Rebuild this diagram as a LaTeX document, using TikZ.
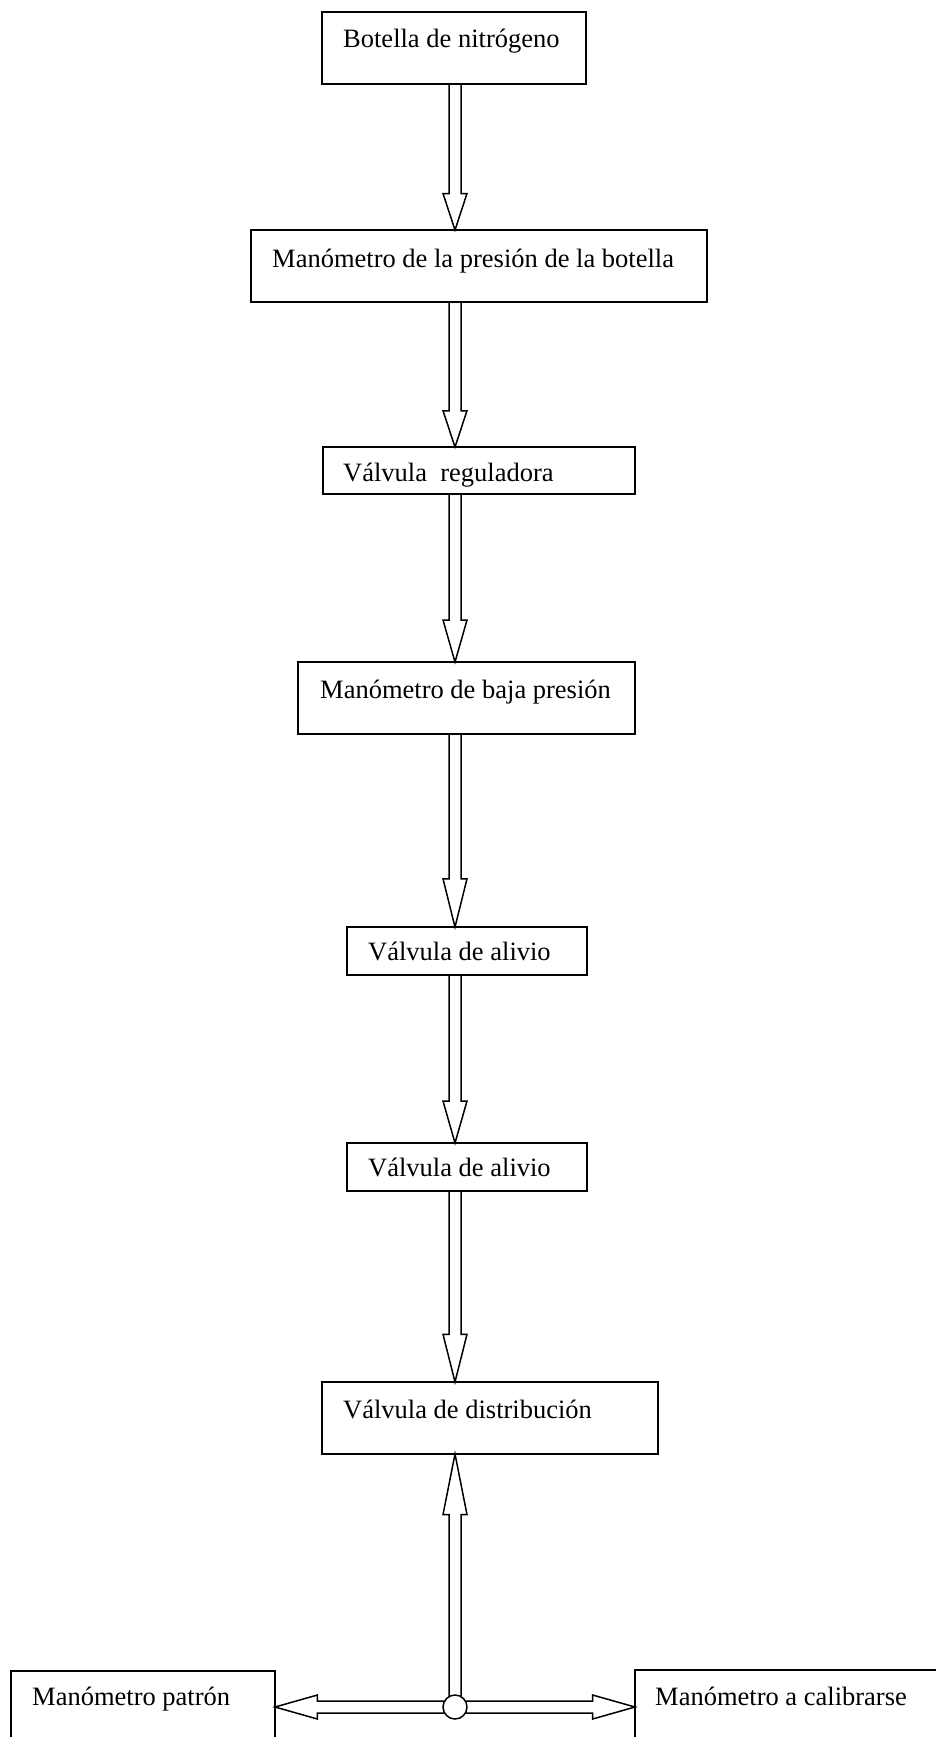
\documentclass[tikz,border=0pt]{standalone}
\usepackage{fontspec}
\setmainfont{Liberation Serif}
\usetikzlibrary{calc}
\pgfdeclarelayer{bg}
\pgfsetlayers{bg,main}
\newcommand\vblock[2]{%
  \draw[blk] let \p1=(#1), \p2=(#2), \n1={0.25*(\y2-\y1)} in
    ({\x1-6pt},\y1) -- ({\x1-6pt},{\y2-(\n1)*1pt}) -- ({\x1-12pt},{\y2-(\n1)*1pt})
    -- (\x2,\y2) -- ({\x1+12pt},{\y2-(\n1)*1pt}) -- ({\x1+6pt},{\y2-(\n1)*1pt})
    -- ({\x1+6pt},\y1) -- cycle;}
\begin{document}
\begin{tikzpicture}[x=1pt,y=-1pt,
  box/.style={draw,line width=1.5pt,anchor=north west,inner sep=0pt,outer sep=0pt},
  lbl/.style={anchor=base west,inner sep=0pt,font=\fontsize{26.5}{30}\selectfont},
  blk/.style={draw,line width=1.5pt,fill=white,line join=miter},
  joint/.style={draw,circle,minimum size=24pt,inner sep=0pt,outer sep=0pt,fill=white,line width=1.5pt}]
\useasboundingbox (0,0) rectangle (936,1737);
\clip (0,0) rectangle (936,1737);
\coordinate (ax) at (455,0);
% boxes
\node[box,minimum width=264pt,minimum height=72pt] (b1) at (322,12) {};
\node[box,minimum width=456pt,minimum height=72pt] (b2) at (251,230) {};
\node[box,minimum width=312pt,minimum height=47pt] (b3) at (323,447) {};
\node[box,minimum width=337pt,minimum height=72pt] (b4) at (298,662) {};
\node[box,minimum width=240pt,minimum height=48pt] (b5) at (347,927) {};
\node[box,minimum width=240pt,minimum height=48pt] (b6) at (347,1143) {};
\node[box,minimum width=336pt,minimum height=72pt] (b7) at (322,1382) {};
\node[box,minimum width=264pt,minimum height=110pt] (pl) at (11,1671) {};
\node[box,minimum width=365pt,minimum height=110pt] (pc) at (635,1670) {};
% labels
\node[lbl] (t1) at ([shift={(21,36)}]b1.north west) {Botella de nitrógeno};
\node[lbl] (t2) at ([shift={(21,37)}]b2.north west) {Manómetro de la presión de la botella};
\node[lbl] (t3) at ([shift={(20,34)}]b3.north west) {Válvula~~reguladora};
\node[lbl] (t4) at ([shift={(22,36)}]b4.north west) {Manómetro de baja presión};
\node[lbl] (t5) at ([shift={(21,33)}]b5.north west) {Válvula de alivio};
\node[lbl] (t6) at ([shift={(21,33)}]b6.north west) {Válvula de alivio};
\node[lbl] (t7) at ([shift={(21,36)}]b7.north west) {Válvula de distribución};
\node[lbl] (t8) at ([shift={(21,34)}]pl.north west) {Manómetro patrón};
\node[lbl] (t9) at ([shift={(20,35)}]pc.north west) {Manómetro a calibrarse};
% junction
\node[joint] (c) at (455,1707) {};
\begin{pgfonlayer}{bg}
\vblock{b1.south -| ax}{b2.north -| ax}
\vblock{b2.south -| ax}{b3.north -| ax}
\vblock{b3.south -| ax}{b4.north -| ax}
\vblock{b4.south -| ax}{b5.north -| ax}
\vblock{b5.south -| ax}{b6.north -| ax}
\vblock{b6.south -| ax}{b7.north -| ax}
% up arrow
\draw[blk] let \p1=(c.120), \p2=(c.60), \p3=(b7.south -| c), \n1={0.25*(\y3-\y1)} in
  (\p1) -- (\x1,{\y3-(\n1)*1pt}) -- ({\x3-12pt},{\y3-(\n1)*1pt}) -- (\p3)
  -- ({\x3+12pt},{\y3-(\n1)*1pt}) -- (\x2,{\y3-(\n1)*1pt}) -- (\p2);
% left arrow
\draw[blk] let \p1=(c.150), \p2=(c.210), \p3=(pl.east |- c), \n1={0.25*(\x3-\x1)} in
  (\p1) -- ({\x3-(\n1)*1pt},\y1) -- ({\x3-(\n1)*1pt},{\y3+12pt}) -- (\p3)
  -- ({\x3-(\n1)*1pt},{\y3-12pt}) -- ({\x3-(\n1)*1pt},\y2) -- (\p2);
% right arrow
\draw[blk] let \p1=(c.30), \p2=(c.330), \p3=(pc.west |- c), \n1={0.25*(\x3-\x1)} in
  (\p1) -- ({\x3-(\n1)*1pt},\y1) -- ({\x3-(\n1)*1pt},{\y3+12pt}) -- (\p3)
  -- ({\x3-(\n1)*1pt},{\y3-12pt}) -- ({\x3-(\n1)*1pt},\y2) -- (\p2);
\end{pgfonlayer}
\end{tikzpicture}
\end{document}
